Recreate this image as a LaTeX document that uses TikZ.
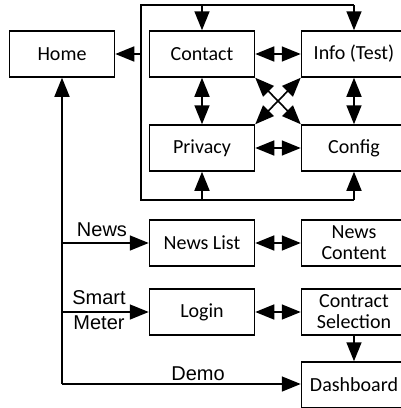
\documentclass[tikz,border=0pt]{standalone}
\usepackage{fontspec}
\setmainfont{Carlito}
\newfontfamily\lblfont{Liberation Sans}
\usetikzlibrary{arrows.meta}
\begin{document}
\begin{tikzpicture}[x=1pt,y=-1pt,
  box/.style={draw, line width=1.5pt, minimum width=105pt, minimum height=46pt, inner sep=0pt, align=center, font=\fontsize{20}{21}\selectfont},
  lbl/.style={font=\lblfont\fontsize{20}{22}\selectfont, inner sep=0pt},
  conn/.style={line width=1.6pt, -{Triangle[length=19pt,width=15pt]}},
  dconn/.style={line width=1.6pt, {Triangle[length=19pt,width=15pt]}-{Triangle[length=19pt,width=15pt]}},
  plain/.style={line width=1.6pt}]
\useasboundingbox (0,0) rectangle (401,408);
\node[box] (home) at (62,54) {Home};
\node[box] (contact) at (202,54) {Contact};
\node[box] (info) at (354,54) {Info (Test)};
\node[box] (privacy) at (202,148) {Privacy};
\node[box] (config) at (354,148) {Config};
\node[box] (newslist) at (202,243) {News List};
\node[box] (newscontent) at (354,243) {News\\Content};
\node[box] (login) at (202,312) {Login};
\node[box] (contract) at (354,312) {Contract\\Selection};
\node[box] (dash) at (354,385) {Dashboard};
% enclosure
\coordinate (tl) at (141,5);
\coordinate (tr) at (354,5);
\coordinate (tc) at (202,5);
\coordinate (bl) at (141,200);
\coordinate (br) at (354,200);
\coordinate (bc) at (202,200);
\coordinate (ml) at (141,54);
\draw[plain] (br) -- (bl) -- (tl) -- (tr);
\draw[conn] (tc) -- (contact.north);
\draw[conn] (tr) -- (info.north);
\draw[conn] (bc) -- (privacy.south);
\draw[conn] (br) -- (config.south);
\draw[conn] (ml) -- (home.east);
% inner
\draw[dconn] (contact) -- (info);
\draw[dconn] (privacy) -- (config);
\draw[dconn] (contact) -- (privacy);
\draw[dconn] (info) -- (config);
\draw[dconn] (contact.south east) -- (config.north west);
\draw[dconn] (info.south west) -- (privacy.north east);
% lower
\coordinate (corner) at (62,384);
\coordinate (jn) at (62,243);
\coordinate (js) at (62,312);
\draw[conn] (corner) -- (home.south);
\draw[conn] (corner) -- (corner -| dash.west);
\draw[conn] (jn) -- (newslist.west);
\draw[conn] (js) -- (login.west);
\draw[dconn] (newslist) -- (newscontent);
\draw[dconn] (login) -- (contract);
\draw[conn] (contract) -- (dash);
\node[lbl] (lnews) at (102,230) {News};
\node[lbl] (lsmart) at (99,298) {Smart};
\node[lbl] (lmeter) at (99,323) {Meter};
\node[lbl] (ldemo) at (198,374) {Demo};
\end{tikzpicture}
\end{document}
